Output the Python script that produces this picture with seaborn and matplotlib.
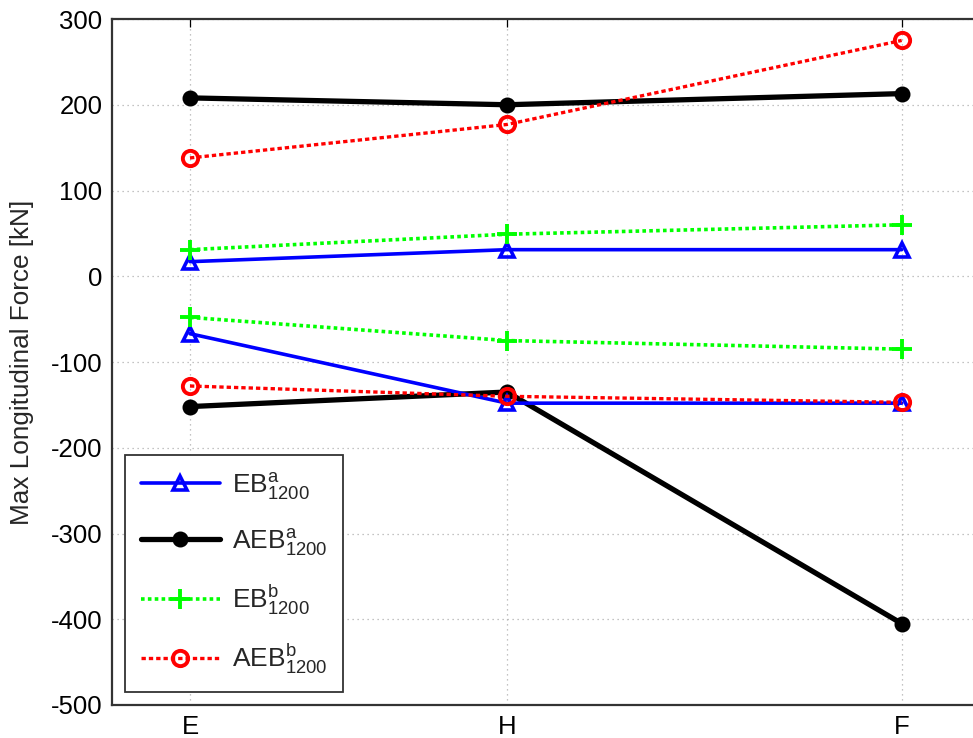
import matplotlib
matplotlib.use("Agg")
import matplotlib.pyplot as plt
import seaborn as sns
import pandas as pd
from matplotlib.lines import Line2D

# ---- data ----
categories = ["E", "H", "F"]
x_values = [1.0, 2.0, 3.245]          # category positions on the (non-uniform) x axis
y_ticks = [-500, -400, -300, -200, -100, 0, 100, 200, 300]

eb_a_upper = [17, 31, 31]
eb_a_lower = [-67, -148, -148]
aeb_a_upper = [208, 200, 213]
aeb_a_lower = [-152, -135, -405]
eb_b_upper = [31, 49, 60]
eb_b_lower = [-48, -75, -85]
aeb_b_upper = [138, 177, 275]
aeb_b_lower = [-128, -140, -147]

series_labels = [r"$\mathregular{EB}^{a}_{1200}$", r"$\mathregular{AEB}^{a}_{1200}$",
                 r"$\mathregular{EB}^{b}_{1200}$", r"$\mathregular{AEB}^{b}_{1200}$"]

# ---- style ----
sns.set_style("white")
plt.rcParams["font.family"] = ["Liberation Sans", "DejaVu Sans"]
plt.rcParams["mathtext.fontset"] = "custom"
plt.rcParams["mathtext.rm"] = "Liberation Sans"
plt.rcParams["mathtext.it"] = "Liberation Sans"

fig = plt.figure(figsize=(9.73, 7.38), dpi=100)
ax = fig.add_axes([112 / 973, 1 - 705 / 738, 1 - 112 / 973, (705 - 19) / 738])

styles = [
    dict(color="#0000ff", marker="^", linestyle="-", linewidth=2.6, markersize=10.5,
         markerfacecolor="none", markeredgecolor="#0000ff", markeredgewidth=2.6),
    dict(color="#000000", marker="o", linestyle="-", linewidth=3.8, markersize=10,
         markerfacecolor="#000000", markeredgecolor="#000000", markeredgewidth=1.5),
    dict(color="#00ff00", marker="+", linestyle=(0, (1.0, 0.9)), linewidth=2.6, markersize=14,
         markeredgecolor="#00ff00", markeredgewidth=2.8),
    dict(color="#ff0000", marker="o", linestyle=(0, (1.3, 0.9)), linewidth=2.4, markersize=11,
         markerfacecolor="none", markeredgecolor="#ff0000", markeredgewidth=2.8),
]

pairs = [(eb_a_upper, eb_a_lower), (aeb_a_upper, aeb_a_lower),
         (eb_b_upper, eb_b_lower), (aeb_b_upper, aeb_b_lower)]

order = [1, 0, 2, 3]
for i in order:
    for branch in pairs[i]:
        df = pd.DataFrame({"x": x_values, "y": branch})
        sns.lineplot(data=df, x="x", y="y", ax=ax, sort=False, legend=False,
                     zorder=3 + order.index(i), **styles[i])

ax.set_xlim(0.754, 3.47)
ax.set_ylim(-500, 300)
ax.set_xticks(x_values)
ax.set_xticklabels(categories)
ax.set_yticks(y_ticks)
ax.set_yticklabels([str(t) for t in y_ticks])
ax.set_xlabel("")
ax.set_ylabel("Max Longitudinal Force [kN]", fontsize=18.8, labelpad=12)

ax.grid(True, color="#b0b0b0", linestyle=(0, (1, 3)), linewidth=0.9)
ax.tick_params(axis="both", direction="in", length=6, width=0.9, labelsize=18.5,
               top=True, right=False, pad=7, colors="black")
for side in ("left", "bottom", "top"):
    ax.spines[side].set_color("#333333")
    ax.spines[side].set_linewidth(1.6)
ax.spines["right"].set_visible(False)

handles = [Line2D([], [], **styles[i]) for i in range(4)]
leg = ax.legend(handles, series_labels, loc="lower left", bbox_to_anchor=(0.015, 0.019),
                borderaxespad=0, fontsize=19, handlelength=3.0, labelspacing=0.95,
                borderpad=0.6, handletextpad=0.45, fancybox=False, framealpha=1,
                edgecolor="#333333")
leg.get_frame().set_linewidth(1.3)

fig.savefig("out.png", dpi=100)
